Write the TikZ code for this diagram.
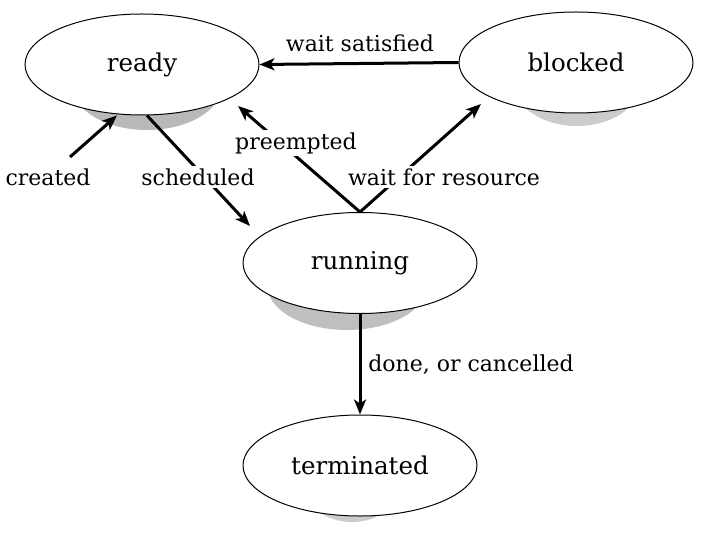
\documentclass[tikz,border=0pt]{standalone}
\usepackage{fontspec}
\setmainfont{DejaVu Serif}
\usetikzlibrary{shapes.geometric,arrows.meta,backgrounds}
\begin{document}
\begin{tikzpicture}[x=1pt,y=-1pt,
  state/.style={draw, ellipse, line width=1pt, fill=white, minimum width=234pt, minimum height=101pt, inner sep=0pt, font=\fontsize{24.5}{28}\selectfont},
  lbl/.style={fill=white, inner sep=2pt, font=\fontsize{22}{26}\selectfont},
  arr/.style={line width=3pt, -{Stealth[length=15pt,width=12pt,inset=4pt]}},
  shade/.style={fill=gray!55}]
\useasboundingbox (0,0) rectangle (719,534);
% states
\node[state] (ready) at (142,64.5) {ready};
\node[state] (blocked) at (576,62.5) {blocked};
\node[state] (running) at (360,263) {running};
\node[state] (term) at (360,465.5) {terminated};
% shadows
\begin{pgfonlayer}{background}
\fill[shade] ([shift={(5,20.5)}]ready.center) ellipse [x radius=75pt, y radius=45pt];
\fill[shade, fill=gray!40] ([shift={(1,22.5)}]blocked.center) ellipse [x radius=62pt, y radius=41pt];
\fill[shade, fill=gray!50] ([shift={(-13,22)}]running.center) ellipse [x radius=80pt, y radius=45pt];
\fill[shade, fill=gray!40] ([shift={(-8,16.5)}]term.center) ellipse [x radius=50pt, y radius=40pt];
\end{pgfonlayer}
% free ends
\coordinate (cstart) at (70,157);
\coordinate (schedend) at (250,226);
\coordinate (preend) at (238,106);
\coordinate (waitend) at (481,104);
% connectors
\draw[arr] (blocked.west) -- (ready.east);
\draw[arr] (cstart) -- ([xshift=-25pt]ready.south);
\draw[arr] ([xshift=5pt]ready.south) -- (schedend);
\draw[arr] (running.north) -- (preend);
\draw[arr] (running.north) -- (waitend);
\draw[arr] (running.south) -- (term.north);
% labels
\node[lbl] (lws) at (360,43) {wait satisfied};
\node[lbl] (lcr) at (48,177) {created};
\node[lbl] (lsc) at (198,177) {scheduled};
\node[lbl] (lpr) at (296,143) {preempted};
\node[lbl] (lwr) at (444,177) {wait for resource};
\node[lbl] (ldc) at (471,365) {done, or cancelled};
\end{tikzpicture}
\end{document}
